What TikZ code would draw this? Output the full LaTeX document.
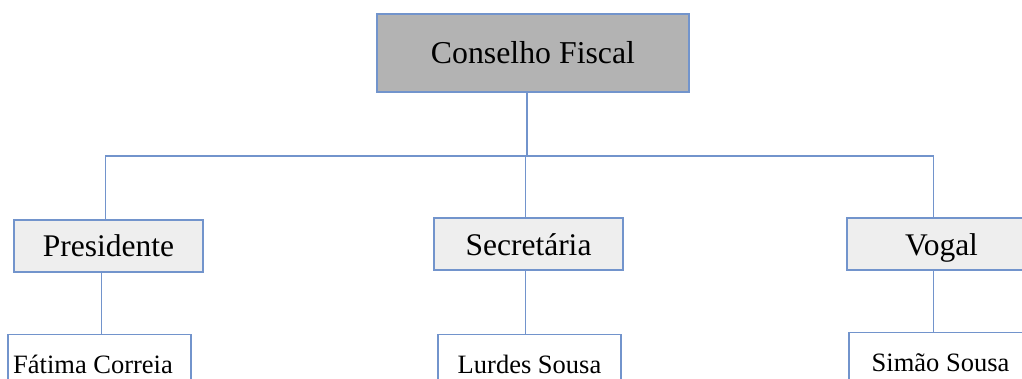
\documentclass[tikz,border=0pt]{standalone}
\usepackage{fontspec}
\setmainfont{Liberation Serif}
\definecolor{boxline}{RGB}{114,148,204}
\definecolor{headfill}{RGB}{179,179,179}
\definecolor{rolefill}{RGB}{238,238,238}
\tikzset{
	head/.style={draw=boxline, fill=headfill, line width=1.3pt, minimum width=312pt, minimum height=78pt, inner sep=0pt, font=\fontsize{31.8}{36}\selectfont},
	role/.style={draw=boxline, fill=rolefill, line width=1.3pt, minimum width=189pt, minimum height=52pt, inner sep=0pt, text height=22pt, text depth=0pt, font=\fontsize{31.5}{36}\selectfont},
	member/.style={draw=boxline, fill=white, line width=1.3pt, minimum width=183pt, minimum height=60pt, inner sep=0pt, anchor=north, font=\fontsize{26.5}{30}\selectfont},
	wire/.style={draw=boxline, line width=1.4pt}
}
\begin{document}
\begin{tikzpicture}[x=1pt, y=-1pt]
		\useasboundingbox (0,0) rectangle (1022,379);
		\clip (0,0) rectangle (1022,379);

		% board
		\node[head] (cf) at (533,53) {Conselho Fiscal};
		\coordinate (bus) at (527,156);

		% roles
		\node[role] (pres) at (108.5,246) {Presidente};
		\node[role] (sec) at (528.5,244) {Secret\'aria};
		\node[role] (vog) at (941.5,244) {Vogal};

		% members
		\node[member] (fat) at (99.5,334) {\hspace*{-13pt}F\'atima Correia};
		\node[member] (lur) at (529.5,334) {Lurdes Sousa};
		\node[member] (sim) at (940.5,332) {Sim\~ao Sousa};

		\draw[wire] (bus |- cf.south) -- (bus);
		\draw[wire] ([xshift=-3pt]pres.north) |- ([xshift=-8pt]vog.north |- bus) -- ([xshift=-8pt]vog.north);
		\draw[wire] ([xshift=-3pt]sec.north) -- ([xshift=-3pt]sec.north |- bus);

		\draw[wire] ([xshift=-7pt]pres.south) -- ([xshift=-7pt]pres.south |- fat.north);
		\draw[wire] ([xshift=-3pt]sec.south) -- ([xshift=-3pt]sec.south |- lur.north);
		\draw[wire] ([xshift=-8pt]vog.south) -- ([xshift=-8pt]vog.south |- sim.north);
	\end{tikzpicture}
\end{document}
